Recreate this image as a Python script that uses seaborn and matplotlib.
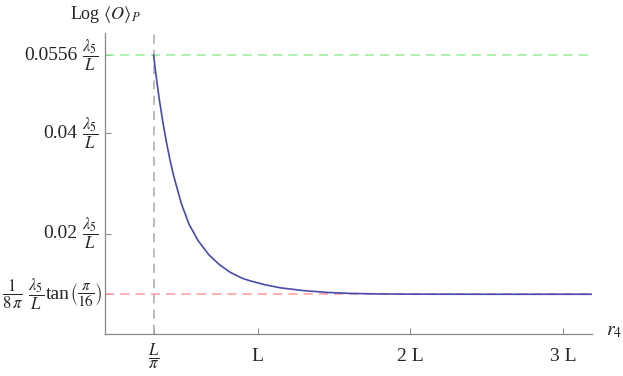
import numpy as np
import pandas as pd
import matplotlib
matplotlib.use("Agg")
import matplotlib.pyplot as plt
from matplotlib.transforms import IdentityTransform
import seaborn as sns

# curve (r4 in units of L, <O>_P in units of lambda5/L)
r4_vals = [0.318, 0.335, 0.355, 0.378, 0.40, 0.425, 0.45, 0.50, 0.55, 0.61,
           0.68, 0.75, 0.82, 0.90, 0.95, 1.05, 1.15, 1.30, 1.45, 1.60,
           1.80, 2.00, 2.50, 3.19]
op_vals = [0.0556, 0.0514, 0.0469, 0.0424, 0.0386, 0.0348, 0.0315, 0.0260, 0.0219, 0.0186,
           0.0158, 0.0138, 0.0123, 0.0111, 0.0106, 0.0098, 0.0092, 0.00865, 0.0083, 0.0081,
           0.00798, 0.00794, 0.00792, 0.00792]

upper_level = 0.0556
lower_level = np.tan(np.pi / 16) / (8 * np.pi)
r_min = 1 / np.pi

x_ticks = [1 / np.pi, 1, 2, 3]
x_ticklabels = [r'$\dfrac{L}{\pi}$', 'L', '2 L', '3 L']
y_ticks = [lower_level, 0.02, 0.04, 0.0556]
# each y tick label is written in pieces: (text, fontsize, gap before the next piece in px)
frac_l = r'$\dfrac{\lambda_5}{L}$'
y_label_parts = [
    [(r'$\dfrac{1}{8\,\pi}$', 12, 4), (frac_l, 12, 2), ('tan', 14, 0),
     (r'$\left(\dfrac{\pi}{16}\right)$', 11, 0)],
    [('0.02', 14, 4), (frac_l, 12, 0)],
    [('0.04', 14, 4), (frac_l, 12, 0)],
    [('0.0556', 14, 4), (frac_l, 12, 0)],
]
y_label_pads = [3, 7, 7, 7]

df = pd.DataFrame({'r4': r4_vals, 'op': op_vals})

sns.set_theme(style="ticks")
plt.rcParams['font.family'] = ['Liberation Serif', 'DejaVu Serif']
plt.rcParams['mathtext.fontset'] = 'stix'

fig = plt.figure(figsize=(6.23, 3.76), dpi=100)
ax = fig.add_axes([105 / 623, 42 / 376, 487 / 623, 301 / 376])

ax.axhline(upper_level, color='#99ee99', lw=1.1, ls=(0, (6, 4)), zorder=1)
ax.axhline(lower_level, color='#ff9999', lw=1.1, ls=(0, (6, 4)), zorder=1)
ax.axvline(r_min, color='#aaaaaa', lw=1.1, ls=(0, (6, 4)), zorder=1)

sns.lineplot(data=df, x='r4', y='op', color='#4a4aad', lw=1.2, ax=ax, zorder=3)

ax.set_xlim(0, 3.19)
ax.set_ylim(0, 0.060)
ax.set_xticks(x_ticks)
ax.set_xticklabels(x_ticklabels, fontsize=14)
ax.get_xticklabels()[0].set_fontsize(12)
for lab in ax.get_xticklabels():
    lab.set_verticalalignment('center')
ax.set_yticks(y_ticks)
ax.set_yticklabels([])
ax.tick_params(direction='in', length=4, width=0.8, color='#888888')
ax.tick_params(axis='x', pad=16)
ax.set_xlabel('')
ax.set_ylabel('')

sns.despine(ax=ax)
for side in ['left', 'bottom']:
    ax.spines[side].set_color('#888888')
    ax.spines[side].set_linewidth(0.9)

ax.annotate(r'Log $\langle O\rangle_P$', xy=(0, 1), xycoords='axes fraction',
            xytext=(0, 13), textcoords='offset points', ha='center', va='center', fontsize=13)
ax.annotate(r'$r_4$', xy=(1, 0), xycoords='axes fraction',
            xytext=(10, 2), textcoords='offset points', ha='left', va='center', fontsize=14)

# y tick labels, placed right to left next to the axis
fig.canvas.draw()
renderer = fig.canvas.get_renderer()
axis_x = ax.transAxes.transform((0, 0))[0]
for yv, parts, pad in zip(y_ticks, y_label_parts, y_label_pads):
    x_px = axis_x - pad
    y_px = ax.transData.transform((0, yv))[1]
    placed = []
    for i in range(len(parts) - 1, -1, -1):
        txt, size, _ = parts[i]
        t = fig.text(x_px, y_px, txt, ha='right', va='center', fontsize=size,
                     transform=IdentityTransform())
        placed.append(t)
        x_px = t.get_window_extent(renderer).x0
        if i > 0:
            x_px -= parts[i - 1][2]
    # keep the widest label inside the figure
    shift = 2 - x_px
    if shift > 0:
        for t in placed:
            t.set_x(t.get_position()[0] + shift)

fig.savefig('out.png', dpi=100)
